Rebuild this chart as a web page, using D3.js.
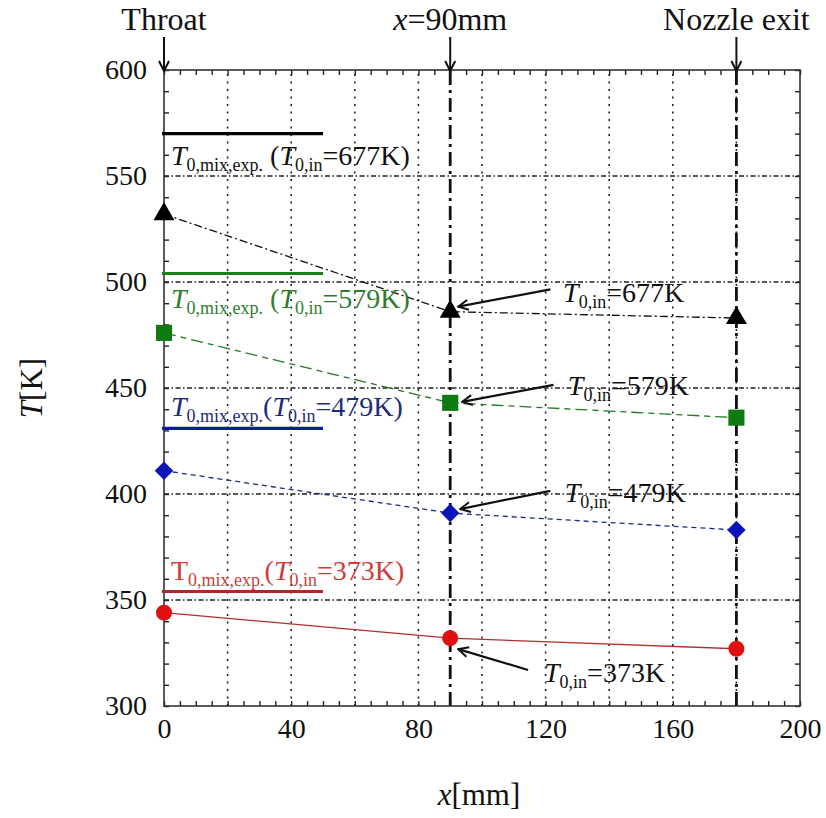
<!DOCTYPE html>
<html>
<head>
<meta charset="utf-8">
<script src="https://cdn.jsdelivr.net/npm/d3@7"></script>
<style>
  html, body { margin: 0; padding: 0; background: #fff; }
  svg { display: block; }
  svg text { font-family: "Liberation Serif", "Times New Roman", Times, "DejaVu Serif", "Noto Serif", serif !important; }
</style>
</head>
<body>
<svg id="chart" width="826" height="818"></svg>
<script>
// Axial stations along the nozzle [mm]
const stations = [0, 90, 180];
const stationNames = ["Throat", "x=90mm", "Nozzle exit"];

// Measured static temperature [K] for each inlet stagnation temperature
const inletTemps = [677, 579, 479, 373];
const temp677 = [532, 486, 483];
const temp579 = [476, 443, 436];
const temp479 = [411, 391, 383];
const temp373 = [344, 332, 327];

// Experimental mixed stagnation temperature T0,mix,exp. [K]
const mixExp = [570, 504, 431, 354];
const mixExpSpan = [0, 50];

// Axis ticks
const xTicks = [0, 40, 80, 120, 160, 200];
const yTicks = [300, 350, 400, 450, 500, 550, 600];

const svg = d3.select("#chart");
const margin = { left: 164, right: 26, top: 70, bottom: 112 };
const W = 826, H = 818;

const x = d3.scaleLinear().domain([0, 200]).range([margin.left, W - margin.right]);
const y = d3.scaleLinear().domain([300, 600]).range([H - margin.bottom, margin.top]);

const ink = "#222";

// arrowhead (open V)
const defs = svg.append("defs");
defs.append("marker")
  .attr("id", "vhead")
  .attr("viewBox", "0 0 12 12")
  .attr("refX", 11).attr("refY", 6)
  .attr("markerWidth", 12).attr("markerHeight", 12)
  .attr("markerUnits", "userSpaceOnUse")
  .attr("orient", "auto")
  .append("path")
  .attr("d", "M1,1 L11,6 L1,11")
  .attr("fill", "none").attr("stroke", "#111").attr("stroke-width", 2);

// grid
const grid = svg.append("g");
grid.selectAll("line.vg").data(d3.range(20, 200, 20)).join("line")
  .attr("x1", d => x(d)).attr("x2", d => x(d))
  .attr("y1", y(300)).attr("y2", y(600))
  .attr("stroke", ink).attr("stroke-width", 1.6).attr("stroke-dasharray", "2,5.5");
grid.selectAll("line.hg").data(d3.range(350, 600, 50)).join("line")
  .attr("x1", x(0)).attr("x2", x(200))
  .attr("y1", d => y(d)).attr("y2", d => y(d))
  .attr("stroke", ink).attr("stroke-width", 1.4).attr("stroke-dasharray", "5,2.5,1.5,2.5");

// station markers (x=90 and nozzle exit)
grid.selectAll("line.st").data(stations.slice(1)).join("line")
  .attr("x1", d => x(d)).attr("x2", d => x(d))
  .attr("y1", y(300)).attr("y2", y(600))
  .attr("stroke", "#111").attr("stroke-width", 2.8).attr("stroke-dasharray", "14,5,3,5");

// axes: minor ticks pointing inward
function styleAxis(g) {
  g.select(".domain").remove();
  g.selectAll(".tick line").attr("stroke", ink).attr("stroke-width", 1.4);
  g.selectAll(".tick text").remove();
}
svg.append("g").attr("transform", `translate(0,${y(300)})`)
  .call(d3.axisBottom(x).tickValues(d3.range(0, 201, 5)).tickSize(-5)).call(styleAxis);
svg.append("g").attr("transform", `translate(0,${y(600)})`)
  .call(d3.axisTop(x).tickValues(d3.range(0, 201, 5)).tickSize(-5)).call(styleAxis);
svg.append("g").attr("transform", `translate(${x(0)},0)`)
  .call(d3.axisLeft(y).tickValues(d3.range(300, 601, 10)).tickSize(-5)).call(styleAxis);
svg.append("g").attr("transform", `translate(${x(200)},0)`)
  .call(d3.axisRight(y).tickValues(d3.range(300, 601, 10)).tickSize(-5)).call(styleAxis);

// tick labels
const xl = svg.append("g").attr("transform", `translate(0,${y(300)})`)
  .call(d3.axisBottom(x).tickValues(xTicks).tickSize(0).tickPadding(12).tickFormat(d3.format("d")));
xl.select(".domain").remove();
xl.selectAll("text").attr("font-size", 28).attr("fill", "#111").attr("dy", "0.71em");
const yl = svg.append("g").attr("transform", `translate(${x(0)},0)`)
  .call(d3.axisLeft(y).tickValues(yTicks).tickSize(0).tickPadding(17).tickFormat(d3.format("d")));
yl.select(".domain").remove();
yl.selectAll("text").attr("font-size", 28).attr("fill", "#111");

// frame
svg.append("rect")
  .attr("x", x(0)).attr("y", y(600))
  .attr("width", x(200) - x(0)).attr("height", y(300) - y(600))
  .attr("fill", "none").attr("stroke", "#333").attr("stroke-width", 1.6);

// axis titles
const xt = svg.append("text").attr("x", 479).attr("y", 805)
  .attr("text-anchor", "middle").attr("font-size", 31).attr("fill", "#111");
xt.append("tspan").attr("font-style", "italic").text("x");
xt.append("tspan").text("[mm]");
const yt = svg.append("text").attr("transform", "translate(42,388) rotate(-90)")
  .attr("text-anchor", "middle").attr("font-size", 31).attr("fill", "#111");
yt.append("tspan").attr("font-style", "italic").text("T");
yt.append("tspan").text("[K]");

// station captions and arrows above the plot
const captions = svg.append("g");
stations.forEach((s, i) => {
  captions.append("line")
    .attr("x1", x(s)).attr("x2", x(s))
    .attr("y1", 37).attr("y2", y(600) + 1)
    .attr("stroke", "#111").attr("stroke-width", 2)
    .attr("marker-end", "url(#vhead)");
  const t = captions.append("text").attr("x", x(s)).attr("y", 30)
    .attr("text-anchor", "middle").attr("font-size", 32).attr("fill", "#111");
  if (i === 1) {
    t.append("tspan").attr("font-style", "italic").text("x");
    t.append("tspan").text("=90mm");
  } else {
    t.text(stationNames[i]);
  }
});

// series
const seriesData = [
  { vals: temp677, color: "#000", line: "#111", dash: "8,3,2,3", shape: "tri" },
  { vals: temp579, color: "#0f7a12", line: "#1f7a22", dash: "12,5,6,5", shape: "sq" },
  { vals: temp479, color: "#0a14b8", line: "#1c2a8c", dash: "5,4", shape: "dia" },
  { vals: temp373, color: "#e01010", line: "#b03030", dash: null, shape: "cir" }
];
const shapeOf = {
  tri: d3.symbol().type(d3.symbolTriangle).size(190),
  sq: d3.symbol().type(d3.symbolSquare).size(260),
  dia: d3.symbol().type(d3.symbolSquare).size(170),
  cir: d3.symbol().type(d3.symbolCircle).size(200)
};
const lineGen = d3.line().x((d, i) => x(stations[i])).y(d => y(d));
seriesData.forEach(s => {
  svg.append("path").datum(s.vals)
    .attr("d", lineGen).attr("fill", "none")
    .attr("stroke", s.line).attr("stroke-width", 1.3)
    .attr("stroke-dasharray", s.dash);
});
seriesData.forEach(s => {
  svg.append("g").selectAll("path").data(s.vals).join("path")
    .attr("d", shapeOf[s.shape])
    .attr("transform", (d, i) => `translate(${x(stations[i])},${y(d)})` + (s.shape === "dia" ? " rotate(45)" : ""))
    .attr("fill", s.color);
});

// experimental mixed temperature bars and their captions
const expStyle = [
  { color: "#000", text: "#111", dy: 31, upright: false },
  { color: "#1d7f1d", text: "#2f7d2f", dy: 34, upright: false },
  { color: "#0a1e9a", text: "#1c2c78", dy: -12, upright: false },
  { color: "#a52a2a", text: "#d23a3a", dy: -12, upright: true }
];
mixExp.forEach((v, i) => {
  const st = expStyle[i];
  svg.append("line")
    .attr("x1", x(mixExpSpan[0]) - 2).attr("x2", x(mixExpSpan[1]))
    .attr("y1", y(v)).attr("y2", y(v))
    .attr("stroke", st.color).attr("stroke-width", 3.2);
  const t = svg.append("text")
    .attr("x", x(0) + 7).attr("y", y(v) + st.dy)
    .attr("font-size", 28).attr("fill", st.text);
  t.append("tspan").attr("font-style", st.upright ? "normal" : "italic").text("T");
  t.append("tspan").attr("font-size", 18).attr("dy", 6).text("0,mix,exp.");
  t.append("tspan").attr("dy", -6).text(i < 2 ? " (" : "(");
  t.append("tspan").attr("font-style", "italic").text("T");
  t.append("tspan").attr("font-size", 18).attr("dy", 6).text("0,in");
  t.append("tspan").attr("dy", -6).text(`=${inletTemps[i]}K)`);
});

// inlet temperature callouts pointing at the x=90mm data
const callTail = [[121.5, 496.5], [122.5, 451.5], [121.5, 401.5], [114.5, 317]];
const callTipOffset = [[8, -5], [12, -1], [10, -4], [8, 11]];
const callText = [[125.5, 490.5], [127, 446.5], [126, 396], [119.5, 311.5]];
const seriesAt90 = [temp677[1], temp579[1], temp479[1], temp373[1]];
inletTemps.forEach((T0, i) => {
  svg.append("line")
    .attr("x1", x(callTail[i][0])).attr("y1", y(callTail[i][1]))
    .attr("x2", x(stations[1]) + callTipOffset[i][0]).attr("y2", y(seriesAt90[i]) + callTipOffset[i][1])
    .attr("stroke", "#111").attr("stroke-width", 2.2)
    .attr("marker-end", "url(#vhead)");
  const t = svg.append("text")
    .attr("x", x(callText[i][0])).attr("y", y(callText[i][1]))
    .attr("font-size", 28).attr("fill", "#111");
  t.append("tspan").attr("font-style", "italic").text("T");
  t.append("tspan").attr("font-size", 18).attr("dy", 6).text("0,in");
  t.append("tspan").attr("dy", -6).text(`=${T0}K`);
});
</script>
</body>
</html>
